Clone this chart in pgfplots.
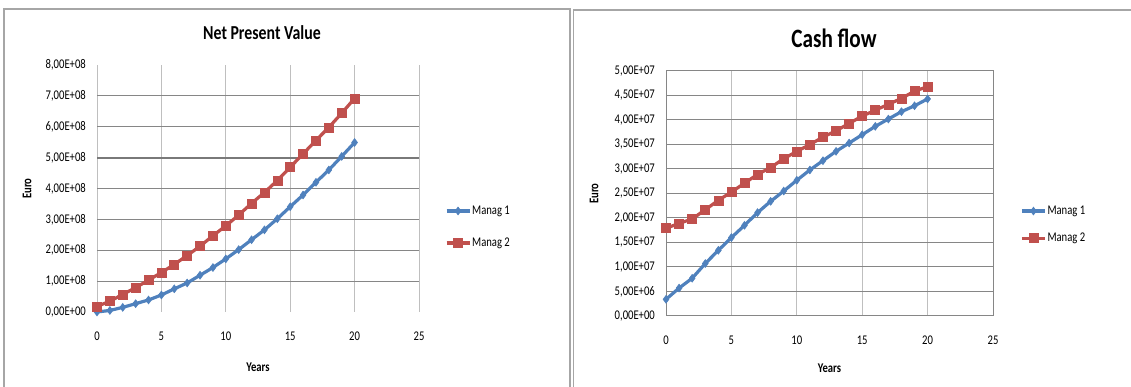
\documentclass[border=0pt]{standalone}
\usepackage{fontspec}
\setmainfont{Carlito}[FakeStretch=0.8]
\usepackage{pgfplots}
\usepackage{pgfplotstable}
\pgfplotsset{compat=1.18}

\definecolor{xlblue}{HTML}{4F81BD}
\definecolor{xlred}{HTML}{C0504D}
\definecolor{hgrid}{HTML}{868686}
\definecolor{vgrid}{HTML}{BFBFBF}
\definecolor{frame}{HTML}{A6A6A6}

% Net present value per year (Euro)
\pgfplotstableread{
year m1 m2
0  0.00e8 0.18e8
1  0.05e8 0.35e8
2  0.15e8 0.57e8
3  0.27e8 0.79e8
4  0.39e8 1.03e8
5  0.55e8 1.28e8
6  0.75e8 1.54e8
7  0.94e8 1.83e8
8  1.19e8 2.13e8
9  1.44e8 2.47e8
10 1.72e8 2.79e8
11 2.02e8 3.14e8
12 2.34e8 3.52e8
13 2.66e8 3.87e8
14 3.02e8 4.26e8
15 3.41e8 4.69e8
16 3.79e8 5.12e8
17 4.20e8 5.56e8
18 4.60e8 5.98e8
19 5.04e8 6.44e8
20 5.49e8 6.92e8
}\npvtable

% Cash flow per year (Euro)
\pgfplotstableread{
year m1 m2
0  0.34e7 1.79e7
1  0.57e7 1.89e7
2  0.77e7 1.98e7
3  1.07e7 2.17e7
4  1.34e7 2.36e7
5  1.60e7 2.53e7
6  1.85e7 2.71e7
7  2.11e7 2.89e7
8  2.34e7 3.03e7
9  2.55e7 3.21e7
10 2.77e7 3.36e7
11 2.98e7 3.50e7
12 3.17e7 3.65e7
13 3.36e7 3.78e7
14 3.53e7 3.93e7
15 3.70e7 4.08e7
16 3.87e7 4.20e7
17 4.02e7 4.32e7
18 4.17e7 4.44e7
19 4.29e7 4.59e7
20 4.43e7 4.68e7
}\cftable

\pgfplotsset{
  xlchart/.style={
    scale only axis,
    clip=false,
    xmin=0, xmax=25,
    xtick={0,5,10,15,20,25},
    xticklabels={0,5,10,15,20,25},
    scaled y ticks=false,
    major tick length=0pt,
    tick label style={font=\fontsize{13.3}{14}\selectfont},
    yticklabel style={anchor=east, inner sep=0pt, xshift=-11pt},
    xticklabel style={anchor=north, inner sep=0pt, yshift=-20pt},
    label style={font=\bfseries\fontsize{13.3}{14}\selectfont},
    xlabel={Years},
    ylabel={Euro},
    legend style={draw=none, fill=none, inner sep=0pt,
      font=\fontsize{13.3}{14}\selectfont,
      nodes={inner sep=1pt, anchor=west}},
    legend cell align=left,
    legend image code/.code={%
      \draw[mark repeat=2, mark phase=2]
        plot coordinates {(0pt,0pt) (11.5pt,0pt) (23pt,0pt)};},
    m1style/.style={color=xlblue, line width=3.2pt, mark=diamond*,
      mark size=3.9pt, mark options={solid, line width=0.6pt, fill=xlblue}},
    m2style/.style={color=xlred, line width=3.2pt, mark=square*,
      mark size=4.5pt, mark options={solid, line width=0.6pt, fill=xlred}},
  },
}

\begin{document}
\begin{tikzpicture}
\useasboundingbox (0pt,0pt) rectangle (1131pt,387pt);
\fill[white] (0pt,0pt) rectangle (1131pt,387pt);

% chart frames
\draw[frame, line width=1.6pt] (4pt,0pt) -- (4pt,378pt) -- (570pt,378pt) -- (570pt,0pt);
\draw[frame, line width=1.6pt] (573.5pt,0pt) -- (573.5pt,377pt) -- (1131pt,377pt);

% titles
\node[font=\bfseries\fontsize{19.8}{21}\selectfont] at (262pt,354pt) {Net Present Value};
\node[font=\bfseries\fontsize{26.5}{28}\selectfont] at (834pt,349pt) {Cash flow};

% Net present value
\begin{axis}[xlchart,
  at={(97pt,75pt)}, anchor=south west,
  width=322pt, height=247pt,
  ymin=0, ymax=8e8,
  ytick={0,1e8,2e8,3e8,4e8,5e8,6e8,7e8,8e8},
  yticklabels={{0,00E+00},{1,00E+08},{2,00E+08},{3,00E+08},{4,00E+08},{5,00E+08},{6,00E+08},{7,00E+08},{8,00E+08}},
  axis line style={draw=none},
  xmajorgrids, major grid style={vgrid, line width=1pt},
  extra y ticks={1e8,2e8,3e8,4e8,6e8,7e8},
  extra y tick labels={},
  extra y tick style={grid=major, major grid style={hgrid, line width=1pt}},
  xlabel style={at={(axis description cs:0.5,0)}, anchor=center, yshift=-55pt},
  ylabel style={at={(axis description cs:-0.217,0.5)}, anchor=center},
  legend style={at={(1.08,0.344)}, anchor=west, row sep=20pt},
]
\draw[hgrid!90!black, line width=1.8pt] (axis cs:0,5e8) -- (axis cs:25,5e8);
\addplot[m1style] table[x=year, y=m1] {\npvtable};
\addlegendentry{Manag 1}
\addplot[m2style] table[x=year, y=m2] {\npvtable};
\addlegendentry{Manag 2}
\end{axis}

% Cash flow
\begin{axis}[xlchart,
  at={(666pt,71pt)}, anchor=south west,
  width=327pt, height=245pt,
  ymin=0, ymax=5e7,
  ytick={0,0.5e7,1e7,1.5e7,2e7,2.5e7,3e7,3.5e7,4e7,4.5e7,5e7},
  yticklabels={{0,00E+00},{5,00E+06},{1,00E+07},{1,50E+07},{2,00E+07},{2,50E+07},{3,00E+07},{3,50E+07},{4,00E+07},{4,50E+07},{5,00E+07}},
  axis line style={hgrid, line width=1pt},
  xmajorgrids, ymajorgrids,
  x grid style={vgrid, line width=1pt},
  y grid style={hgrid, line width=1pt},
  xlabel style={at={(axis description cs:0.5,0)}, anchor=center, yshift=-52pt},
  ylabel style={at={(axis description cs:-0.22,0.5)}, anchor=center},
  legend style={at={(1.083,0.373)}, anchor=west, row sep=15pt},
]
\addplot[m1style] table[x=year, y=m1] {\cftable};
\addlegendentry{Manag 1}
\addplot[m2style] table[x=year, y=m2] {\cftable};
\addlegendentry{Manag 2}
\end{axis}
\end{tikzpicture}
\end{document}
